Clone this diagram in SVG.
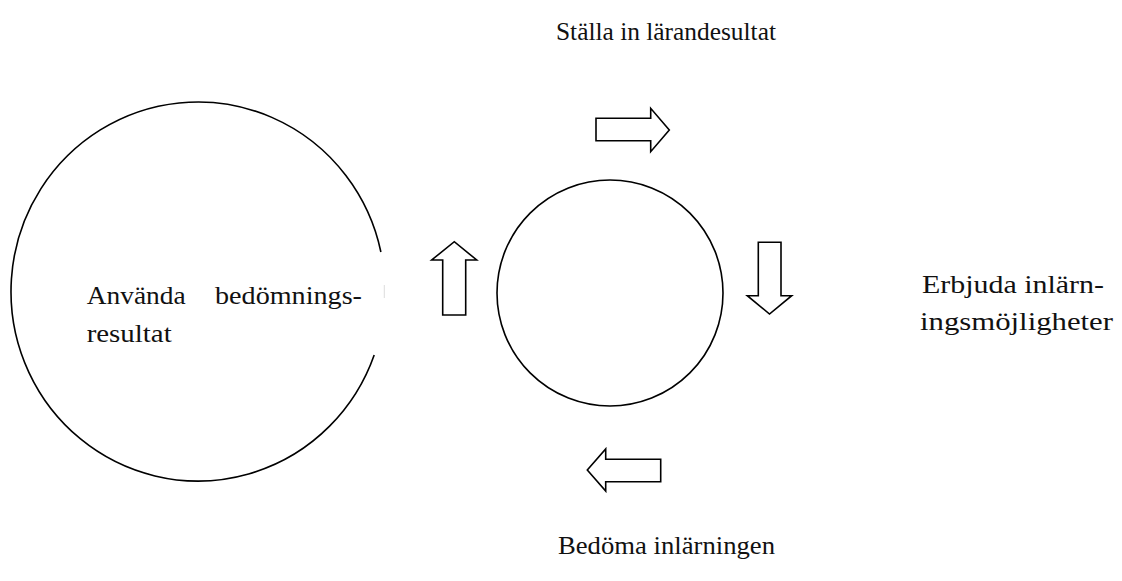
<svg xmlns="http://www.w3.org/2000/svg" width="1122" height="581" viewBox="0 0 1122 581">
<style>
.t{font-family:"Liberation Serif","DejaVu Serif",serif;font-size:25px;fill:#111}
.ring{fill:none;stroke:#000;stroke-width:1.6}
.arr{fill:#fff;stroke:#000;stroke-width:1.6;stroke-linejoin:miter}
</style>
<rect width="1122" height="581" fill="#fff"/>
<g id="node-anvanda">
<path class="ring" d="M 380.9 252 A 187 189.5 0 1 0 374.2 355"/>
<line x1="384.3" y1="285" x2="384.3" y2="298" stroke="#ddd" stroke-width="1"/>
<text class="t" x="86.7" y="304" textLength="99" lengthAdjust="spacingAndGlyphs">Använda</text>
<text class="t" x="215" y="304" textLength="147" lengthAdjust="spacingAndGlyphs">bedömnings-</text>
<text class="t" x="86.7" y="342" textLength="85" lengthAdjust="spacingAndGlyphs">resultat</text>
</g>
<g id="node-cycle">
<circle class="ring" cx="610" cy="293" r="113"/>
</g>
<g id="node-stalla">
<text class="t" x="556" y="40" textLength="220" lengthAdjust="spacingAndGlyphs">Ställa in lärandesultat</text>
</g>
<g id="node-erbjuda">
<text class="t" x="922" y="293" textLength="182" lengthAdjust="spacingAndGlyphs">Erbjuda inlärn-</text>
<text class="t" x="920" y="330" textLength="193" lengthAdjust="spacingAndGlyphs">ingsmöjligheter</text>
</g>
<g id="node-bedoma">
<text class="t" x="558" y="554" textLength="217" lengthAdjust="spacingAndGlyphs">Bedöma inlärningen</text>
</g>
<g id="connectors">
<polygon class="arr" points="596,118.3 650.7,118.3 650.7,108.3 669.3,130 650.7,151.7 650.7,140.7 596,140.7"/>
<polygon class="arr" points="758.3,242.3 781,242.3 781,295.7 791.7,295.7 769.5,314 747.3,295.7 758.3,295.7"/>
<polygon class="arr" points="660.7,459.3 605.7,459.3 605.7,449 587.3,470 605.7,491 605.7,481.7 660.7,481.7"/>
<polygon class="arr" points="442.7,315 442.7,260 431.7,260 454.3,241.7 476.7,260 465.7,260 465.7,315"/>
</g>
</svg>
